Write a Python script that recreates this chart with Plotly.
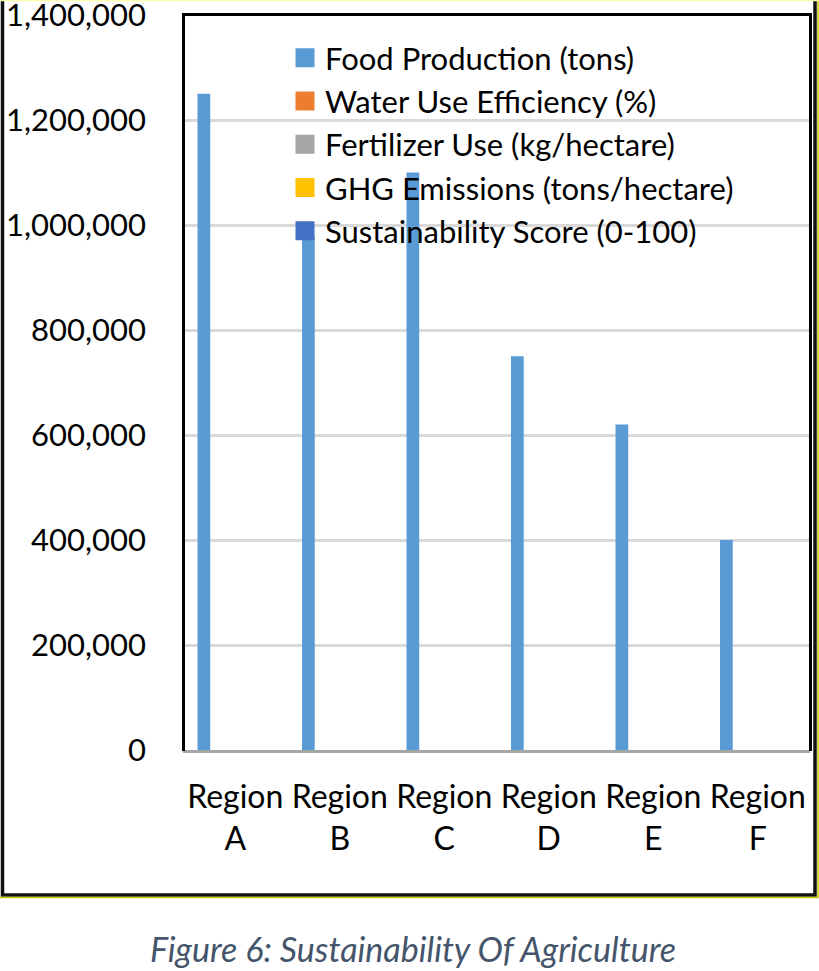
import plotly.graph_objects as go

regions = ["Region<br>A", "Region<br>B", "Region<br>C", "Region<br>D", "Region<br>E", "Region<br>F"]
food_production = [1250000, 980000, 1100000, 750000, 620000, 400000]
# the other four series show no visible bar height at this scale
water_efficiency = [0, 0, 0, 0, 0, 0]
fertilizer_use = [0, 0, 0, 0, 0, 0]
ghg_emissions = [0, 0, 0, 0, 0, 0]
sustainability_score = [0, 0, 0, 0, 0, 0]
y_ticks = [0, 200000, 400000, 600000, 800000, 1000000, 1200000, 1400000]

series = [
    ("Food Production (tons)", food_production, "#5B9BD5"),
    ("Water Use Efficiency (%)", water_efficiency, "#ED7D31"),
    ("Fertilizer Use (kg/hectare)", fertilizer_use, "#A5A5A5"),
    ("GHG Emissions (tons/hectare)", ghg_emissions, "#FFC000"),
    ("Sustainability Score (0-100)", sustainability_score, "#4472C4"),
]

W, H = 819, 971
L, R, T, B = 183, 810, 15, 750

def px(x):
    return (x - L) / (R - L)

def py(y):
    return (B - y) / (B - T)

FONT = "Lato, 'Open Sans', sans-serif"

fig = go.Figure()
for name, vals, col in series:
    fig.add_trace(go.Bar(x=regions, y=vals, name=name, marker_color=col,
                         marker_line_width=0, showlegend=False))
for name, vals, col in series:
    fig.add_trace(go.Scatter(x=[None], y=[None], mode="markers", name=name,
                             legendgroup=name,
                             marker=dict(symbol="square", size=16, color=col,
                                         line=dict(color=col, width=3))))

shapes = []
shapes.append(dict(type="path", xref="paper", yref="paper",
                   path=f"M {px(183.5)},{py(751)} L {px(183.5)},{py(14.5)} L {px(810.5)},{py(14.5)} L {px(810.5)},{py(751)}",
                   line=dict(color="black", width=3)))
shapes.append(dict(type="path", xref="paper", yref="paper",
                   path=f"M {px(2.5)},{py(-10)} L {px(2.5)},{py(895)} L {px(815)},{py(895)} L {px(815)},{py(-10)}",
                   line=dict(color="#111111", width=3.5)))
shapes.append(dict(type="path", xref="paper", yref="paper",
                   path=f"M {px(0)},{py(897.5)} L {px(818)},{py(897.5)} L {px(818)},{py(-10)}",
                   line=dict(color="#C8C800", width=1.5)))
shapes.append(dict(type="line", xref="paper", yref="paper",
                   x0=px(0), x1=px(819), y0=py(0.5), y1=py(0.5),
                   line=dict(color="#FFFFB0", width=1.5)))

fig.update_layout(
    width=W, height=H,
    margin=dict(l=L, r=W - R, t=T, b=H - B, pad=0, autoexpand=False),
    paper_bgcolor="white", plot_bgcolor="white",
    barmode="group", bargap=0.249, bargroupgap=0.19,
    font=dict(family=FONT, color="black", size=30),
    showlegend=True,
    legend=dict(x=px(285), y=py(31), xanchor="left", yanchor="top",
                bgcolor="rgba(0,0,0,0)", font=dict(size=31, family=FONT),
                tracegroupgap=0, itemwidth=30),
    xaxis=dict(showline=True, linecolor="#A6A6A6", linewidth=3,
               showgrid=False, ticks="", tickfont=dict(size=32),
               ticklabelstandoff=17, fixedrange=True, automargin=False),
    yaxis=dict(range=[0, 1400000], tickvals=y_ticks, tickformat=",d",
               showgrid=True, gridcolor="#D9D9D9", gridwidth=2.5,
               zeroline=False, showline=False, ticks="",
               ticklabeloverflow="allow", automargin=False,
               tickfont=dict(size=31), ticklabelstandoff=36),
    shapes=shapes,
    annotations=[dict(text="<i>Figure 6: Sustainability Of Agriculture</i>",
                      xref="paper", yref="paper", x=px(413), y=py(948),
                      xanchor="center", yanchor="middle", showarrow=False,
                      font=dict(size=34, color="#44546A", family=FONT))],
)

fig.write_html("out.html")
